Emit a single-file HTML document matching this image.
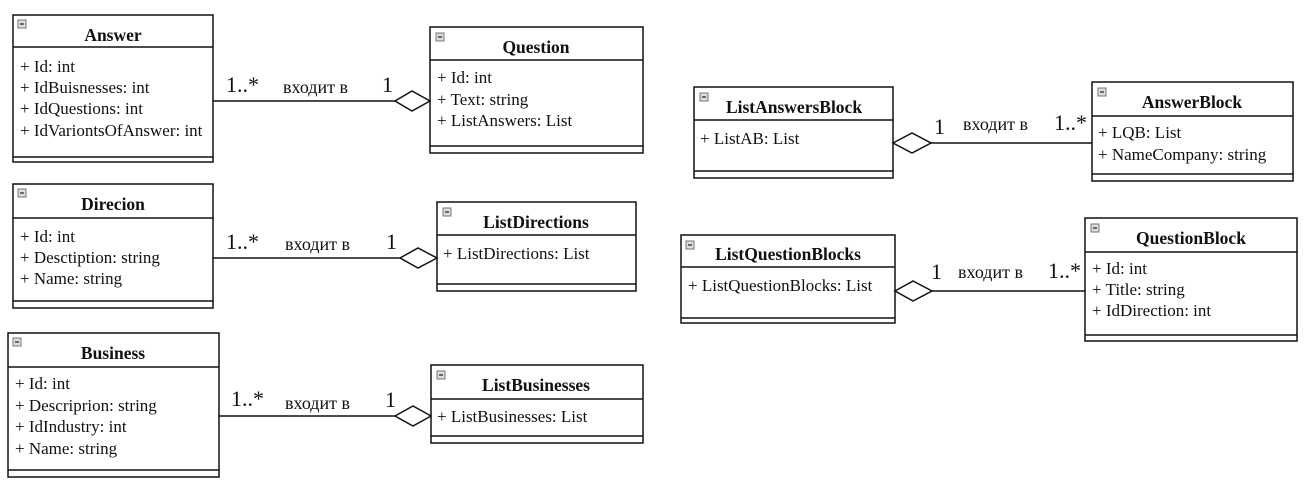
<!DOCTYPE html>
<html><head><meta charset="utf-8"><style>
html,body{margin:0;padding:0;background:#fff;}
svg{display:block;}
text{font-family:"Liberation Serif","DejaVu Serif",serif;fill:#111;}
.t{font-weight:bold;font-size:17.5px;text-anchor:middle;}
.a{font-size:17px;}
.m{font-size:22px;}
.l{font-size:18px;}
rect.b{fill:#fff;stroke:#111;stroke-width:1.5;}
line{stroke:#111;stroke-width:1.5;}
polygon{fill:#fff;stroke:#111;stroke-width:1.5;}
.ic{fill:#ddd;stroke:#777;stroke-width:1;}
.im{stroke:#444;stroke-width:1.5;}
</style></head><body>
<svg width="1307" height="490" viewBox="0 0 1307 490">
<!-- Answer -->
<rect class="b" x="13" y="15" width="200" height="147"/>
<line x1="13" y1="47" x2="213" y2="47"/><line x1="13" y1="157" x2="213" y2="157"/>
<rect class="ic" x="18" y="20" width="8" height="8"/><line class="im" x1="20" y1="24" x2="24" y2="24"/>
<text class="t" x="113" y="41">Answer</text>
<text class="a" x="20" y="72">+ Id: int</text>
<text class="a" x="20" y="93">+ IdBuisnesses: int</text>
<text class="a" x="20" y="114">+ IdQuestions: int</text>
<text class="a" x="20" y="136">+ IdVariontsOfAnswer: int</text>
<!-- Question -->
<rect class="b" x="430" y="27" width="213" height="126"/>
<line x1="430" y1="60" x2="643" y2="60"/><line x1="430" y1="146" x2="643" y2="146"/>
<rect class="ic" x="436" y="33" width="8" height="8"/><line class="im" x1="438" y1="37" x2="442" y2="37"/>
<text class="t" x="536" y="53">Question</text>
<text class="a" x="437" y="83">+ Id: int</text>
<text class="a" x="437" y="105">+ Text: string</text>
<text class="a" x="437" y="126">+ ListAnswers: List</text>
<line x1="213" y1="101" x2="395" y2="101"/>
<polygon points="395,101 412,91 430,101 412,111"/>
<text class="m" x="226" y="92">1..*</text><text class="l" x="283" y="93">входит в</text><text class="m" x="382" y="92">1</text>
<!-- Direcion -->
<rect class="b" x="13" y="184" width="200" height="124"/>
<line x1="13" y1="218" x2="213" y2="218"/><line x1="13" y1="301" x2="213" y2="301"/>
<rect class="ic" x="18" y="189" width="8" height="8"/><line class="im" x1="20" y1="193" x2="24" y2="193"/>
<text class="t" x="113" y="210">Direcion</text>
<text class="a" x="20" y="242">+ Id: int</text>
<text class="a" x="20" y="263">+ Desctiption: string</text>
<text class="a" x="20" y="284">+ Name: string</text>
<!-- ListDirections -->
<rect class="b" x="437" y="202" width="199" height="89"/>
<line x1="437" y1="235" x2="636" y2="235"/><line x1="437" y1="284" x2="636" y2="284"/>
<rect class="ic" x="443" y="208" width="8" height="8"/><line class="im" x1="445" y1="212" x2="449" y2="212"/>
<text class="t" x="536" y="228">ListDirections</text>
<text class="a" x="443" y="259">+ ListDirections: List</text>
<line x1="213" y1="258" x2="400" y2="258"/>
<polygon points="400,258 418,248 437,258 418,268"/>
<text class="m" x="226" y="249">1..*</text><text class="l" x="285" y="250">входит в</text><text class="m" x="386" y="249">1</text>
<!-- Business -->
<rect class="b" x="8" y="333" width="211" height="144"/>
<line x1="8" y1="367" x2="219" y2="367"/><line x1="8" y1="470" x2="219" y2="470"/>
<rect class="ic" x="13" y="338" width="8" height="8"/><line class="im" x1="15" y1="342" x2="19" y2="342"/>
<text class="t" x="113" y="359">Business</text>
<text class="a" x="15" y="389">+ Id: int</text>
<text class="a" x="15" y="411">+ Descriprion: string</text>
<text class="a" x="15" y="432">+ IdIndustry: int</text>
<text class="a" x="15" y="454">+ Name: string</text>
<!-- ListBusinesses -->
<rect class="b" x="431" y="365" width="212" height="78"/>
<line x1="431" y1="399" x2="643" y2="399"/><line x1="431" y1="436" x2="643" y2="436"/>
<rect class="ic" x="437" y="371" width="8" height="8"/><line class="im" x1="439" y1="375" x2="443" y2="375"/>
<text class="t" x="536" y="391">ListBusinesses</text>
<text class="a" x="437" y="422">+ ListBusinesses: List</text>
<line x1="219" y1="416" x2="395" y2="416"/>
<polygon points="395,416 413,406 431,416 413,426"/>
<text class="m" x="231" y="406">1..*</text><text class="l" x="285" y="409">входит в</text><text class="m" x="385" y="407">1</text>
<!-- ListAnswersBlock -->
<rect class="b" x="694" y="87" width="199" height="91"/>
<line x1="694" y1="120" x2="893" y2="120"/><line x1="694" y1="171" x2="893" y2="171"/>
<rect class="ic" x="700" y="93" width="8" height="8"/><line class="im" x1="702" y1="97" x2="706" y2="97"/>
<text class="t" x="794" y="113">ListAnswersBlock</text>
<text class="a" x="700" y="144">+ ListAB: List</text>
<line x1="931" y1="143" x2="1092" y2="143"/>
<polygon points="893,143 912,133 931,143 912,153"/>
<text class="m" x="934" y="134">1</text><text class="l" x="963" y="130">входит в</text><text class="m" x="1054" y="130">1..*</text>
<!-- AnswerBlock -->
<rect class="b" x="1092" y="82" width="201" height="99"/>
<line x1="1092" y1="116" x2="1293" y2="116"/><line x1="1092" y1="174" x2="1293" y2="174"/>
<rect class="ic" x="1098" y="88" width="8" height="8"/><line class="im" x1="1100" y1="92" x2="1104" y2="92"/>
<text class="t" x="1192" y="108">AnswerBlock</text>
<text class="a" x="1098" y="138">+ LQB: List</text>
<text class="a" x="1098" y="160">+ NameCompany: string</text>
<!-- ListQuestionBlocks -->
<rect class="b" x="681" y="235" width="214" height="88"/>
<line x1="681" y1="267" x2="895" y2="267"/><line x1="681" y1="318" x2="895" y2="318"/>
<rect class="ic" x="686" y="241" width="8" height="8"/><line class="im" x1="688" y1="245" x2="692" y2="245"/>
<text class="t" x="788" y="260">ListQuestionBlocks</text>
<text class="a" x="688" y="291">+ ListQuestionBlocks: List</text>
<line x1="932" y1="291" x2="1085" y2="291"/>
<polygon points="895,291 913,281 932,291 913,301"/>
<text class="m" x="931" y="279">1</text><text class="l" x="958" y="278">входит в</text><text class="m" x="1048" y="278">1..*</text>
<!-- QuestionBlock -->
<rect class="b" x="1085" y="218" width="212" height="123"/>
<line x1="1085" y1="252" x2="1297" y2="252"/><line x1="1085" y1="335" x2="1297" y2="335"/>
<rect class="ic" x="1091" y="224" width="8" height="8"/><line class="im" x1="1093" y1="228" x2="1097" y2="228"/>
<text class="t" x="1191" y="244">QuestionBlock</text>
<text class="a" x="1092" y="274">+ Id: int</text>
<text class="a" x="1092" y="295">+ Title: string</text>
<text class="a" x="1092" y="316">+ IdDirection: int</text>
</svg>
</body></html>
